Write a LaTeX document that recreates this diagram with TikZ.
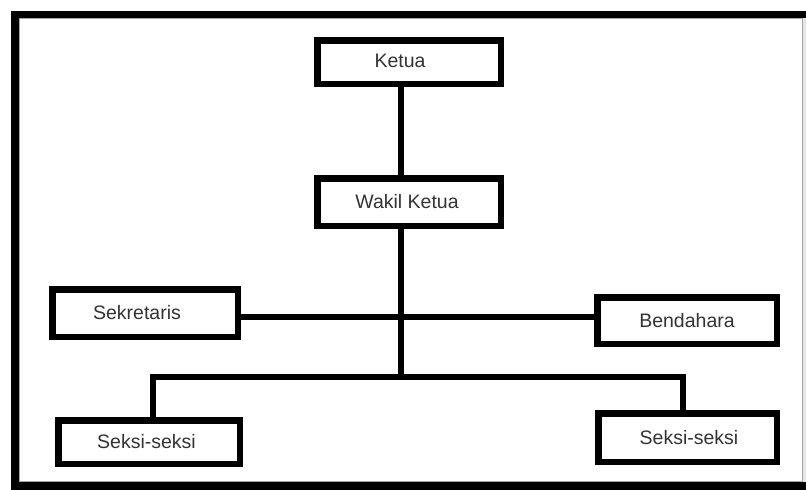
\documentclass[tikz,border=0pt]{standalone}
\usepackage{fontspec}
\setmainfont{Liberation Sans}
\begin{document}
\begin{tikzpicture}[x=1pt,y=-1pt,
  orgbox/.style={draw=black, line width=6.5pt, fill=white, rectangle, inner sep=0pt,
    font=\fontsize{19.5}{22}\selectfont, text=black!80},
  conn/.style={draw=black, line width=6.5pt, line join=miter}]
\useasboundingbox (0,0) rectangle (806,490);
% frame
\fill[black] (11,11) rectangle (806,490);
\fill[white] (19,18) rectangle (803,482);
\draw[black!35, line width=1.2pt] (19.6,18.6) rectangle (802.4,481.4);
\fill[black!10] (803,18) rectangle (806,482);
% boxes
\node[orgbox, minimum width=183.5pt, minimum height=43.5pt] (ketua) at (409,62) {\kern-18pt\raisebox{2pt}{Ketua}};
\node[orgbox, minimum width=183.5pt, minimum height=47.5pt] (wakil) at (409,202) {\kern-4pt Wakil Ketua};
\node[orgbox, minimum width=185.5pt, minimum height=47.5pt] (sek) at (145,313) {\kern-16pt Sekretaris};
\node[orgbox, minimum width=179.5pt, minimum height=46.5pt] (bend) at (687,320.5) {Bendahara};
\node[orgbox, minimum width=181.5pt, minimum height=43.5pt] (seksiL) at (149,442) {\kern-5pt Seksi-seksi};
\node[orgbox, minimum width=178.5pt, minimum height=48.5pt] (seksiR) at (687.5,437.5) {\kern3pt Seksi-seksi};
% connectors
\coordinate (spine) at (401,0);
\coordinate (mid) at (401,317);
\coordinate (jn) at (401,377);
\coordinate (dl) at (153,377);
\coordinate (dr) at (683,377);
\draw[conn] (ketua.south -| spine) -- (wakil.north -| spine);
\draw[conn] (wakil.south -| spine) -- (jn);
\draw[conn] (sek.east |- mid) -- (bend.west |- mid);
\draw[conn] (dl |- seksiL.north) -- (dl) -- (dr) -- (dr |- seksiR.north);
\end{tikzpicture}
\end{document}
